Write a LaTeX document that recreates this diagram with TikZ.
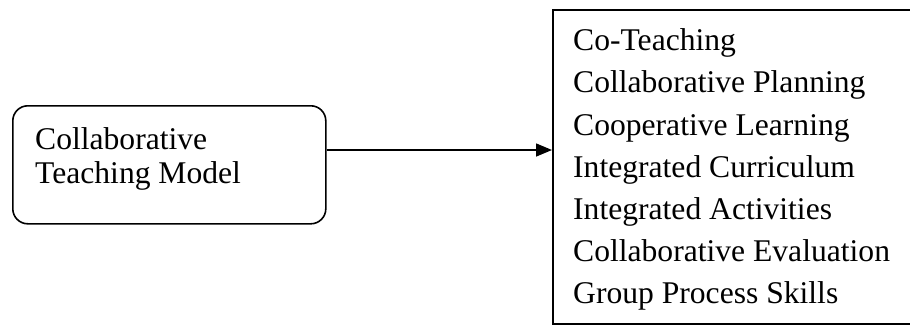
\documentclass[tikz,border=0pt]{standalone}
\usepackage{fontspec}
\setmainfont{Liberation Serif}
\usetikzlibrary{arrows.meta}
\begin{document}
\begin{tikzpicture}[x=1pt,y=-1pt,
  boxline/.style={draw=black,line width=1.6pt},
  txt/.style={inner sep=0pt,align=left,anchor=north west}]
\useasboundingbox (0,0) rectangle (910,325);
\node[boxline,rounded corners=15pt,minimum width=313pt,minimum height=118pt,anchor=north west,inner sep=0pt] (lbox) at (12,105) {};
\node[boxline,minimum width=370pt,minimum height=314pt,anchor=north west,inner sep=0pt] (rbox) at (552,9) {};
\node[txt,font=\fontsize{31.6}{34}\selectfont] (ltext) at (35,127.5) {Collaborative\\Teaching Model};
\node[txt,font=\fontsize{31.6}{42.2}\selectfont] (rtext) at (573,28.5) {Co-Teaching\\Collaborative Planning\\Cooperative Learning\\Integrated Curriculum\\Integrated Activities\\Collaborative Evaluation\\Group Process Skills};
\coordinate (ay) at (0,150);
\draw[line width=1.5pt,-{Triangle[length=16pt,width=13pt]}] (lbox.east |- ay) -- (rbox.west |- ay);
\end{tikzpicture}
\end{document}
